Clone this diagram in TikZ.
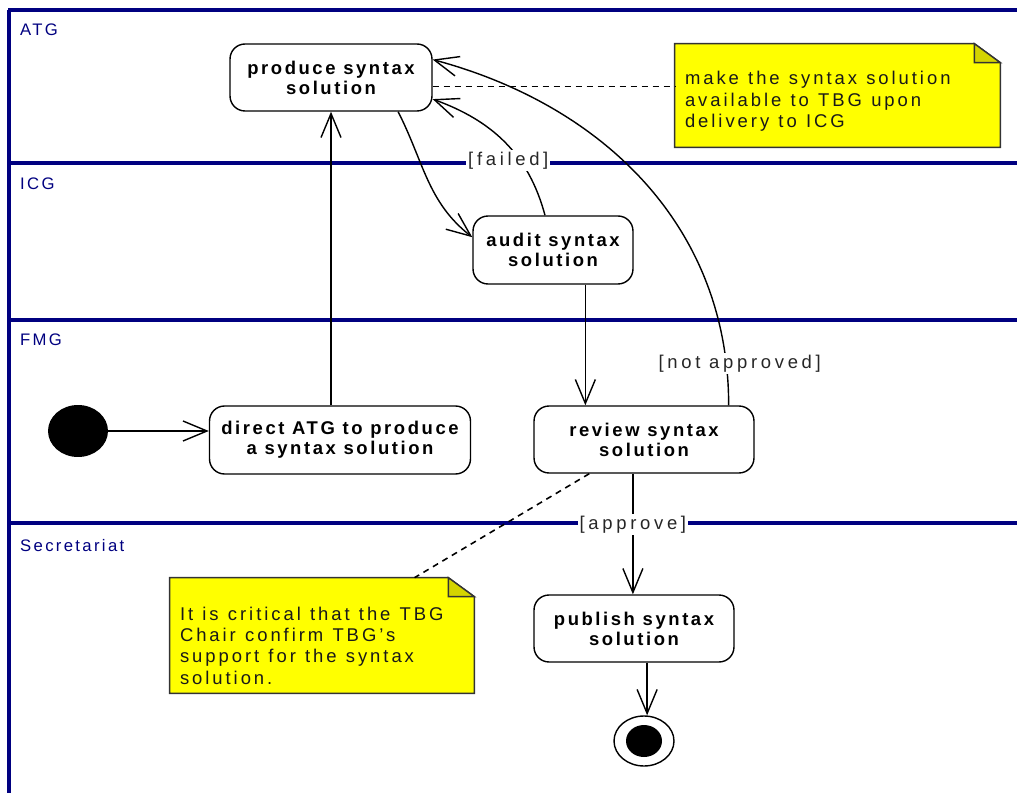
\documentclass[tikz,border=0pt]{standalone}
\usepackage{fontspec}
\setmainfont{Liberation Sans}[LetterSpace=16, BoldFeatures={LetterSpace=14}]
\newfontfamily\lanefont{Liberation Sans}[LetterSpace=14]
\newfontfamily\guardfont{Liberation Sans}[LetterSpace=20]
\newcommand\notespace{\spaceskip 0.5em\relax}
\usetikzlibrary{arrows.meta,shapes.geometric}
\definecolor{lanenavy}{RGB}{0,0,128}
\definecolor{noteyellow}{RGB}{255,255,0}
\definecolor{foldyellow}{RGB}{212,212,0}
\begin{document}
\begin{tikzpicture}[x=0.02cm, y=-0.02cm,
  every node/.style={font=\fontsize{10.5}{12}\selectfont},
  activity/.style={draw, rounded corners=0.3cm, line width=0.8pt, align=center, inner xsep=2pt,
    font=\fontsize{10.5}{11.4}\selectfont\bfseries, minimum height=1.34cm},
  lane/.style={draw=lanenavy, line width=2.3pt},
  lanelabel/.style={anchor=west, text=lanenavy, font=\fontsize{9.5}{11}\selectfont\lanefont},
  flow/.style={-{Straight Barb[length=0.48cm,width=0.4cm]}, line width=0.8pt},
  guard/.style={fill=white, inner sep=1pt, text=black!85, font=\fontsize{10.5}{12}\selectfont\guardfont},
  notebox/.style={fill=noteyellow, align=left, inner xsep=0.2cm, text=black!90},
  anchorline/.style={line width=0.9pt, dash pattern=on 0.12cm off 0.1cm}]
\useasboundingbox (0,0) rectangle (1017,793);
% Swimlanes
\draw[lane] (8,10) -- (1017,10);
\draw[lane] (9,10) -- (9,793);
\foreach \y in {163,320,523}
  \draw[lane] (9,\y) -- (1017,\y);
\node[lanelabel] (atg) at (14,30) {ATG};
\node[lanelabel] (icg) at (14,184) {ICG};
\node[lanelabel] (fmg) at (14,340) {FMG};
\node[lanelabel] (sec) at (14,546) {Secretariat};
% Activities
\node[activity, minimum width=4.04cm] (produce) at (331,77.5) {produce syntax\\solution};
\node[activity, minimum width=3.2cm, minimum height=1.36cm] (audit) at (553,250) {audit syntax\\solution};
\node[activity, minimum width=5.22cm, minimum height=1.36cm] (direct) at (340,440) {direct ATG to produce\\a syntax solution};
\node[activity, minimum width=4.4cm] (review) at (644,439.5) {review syntax\\solution};
\node[activity, minimum width=4.0cm] (publish) at (634,628.5) {publish syntax\\solution};
% Start and end
\node[ellipse, fill=black, minimum width=1.2cm, minimum height=1.04cm, inner sep=0pt] (init) at (78,431) {};
\node[ellipse, draw, line width=0.8pt, minimum width=1.2cm, minimum height=1.0cm, inner sep=0pt] (final) at (644,741) {};
\fill (final) ellipse (0.36cm and 0.32cm);
% Notes
\node[notebox, text width=6.1cm, minimum height=2.06cm] (note1) at (837.5,95.5)
  {\notespace\rule{0pt}{0.5cm}make the syntax solution\\available to TBG upon\\delivery to ICG};
\node[notebox, text width=5.68cm, minimum height=2.3cm] (note2) at (322,635.5)
  {\notespace\rule{0pt}{0.68cm}It is critical that the TBG\\Chair confirm TBG's\\support for the syntax\\solution.};
\foreach \n in {note1,note2} {
  \fill[white] ([xshift=-0.52cm]\n.north east) -- (\n.north east) -- ([yshift=-0.38cm]\n.north east) -- cycle;
  \draw[black!80, line width=0.8pt] (\n.north west) -- ([xshift=-0.52cm]\n.north east)
    -- ([yshift=-0.38cm]\n.north east) -- (\n.south east) -- (\n.south west) -- cycle;
  \filldraw[fill=foldyellow, draw=black!80, line width=0.8pt] ([xshift=-0.52cm]\n.north east)
    -- ([xshift=-0.52cm,yshift=-0.38cm]\n.north east) -- ([yshift=-0.38cm]\n.north east) -- cycle;
}
% Flows
\draw[flow] (init) -- (init -| direct.west);
\draw[flow] (produce.south |- direct.north) -- (produce.south);
\draw[flow] (produce.-27) to[out=-63, in=142] (audit.171);
\draw[flow] (audit.103) to[out=105, in=-20] node[guard, pos=0.35, xshift=-0.24cm] {[failed]} (produce.-12);
\draw[flow] (audit.-47.6) -- (audit.-47.6 |- review.north);
\draw[flow] (review.22) to[out=90, in=-15] node[guard, pos=0.09, xshift=0.28cm, yshift=-0.1cm] {[not approved]} (produce.10);
\draw[flow] (review.-108) -- node[guard, pos=0.42] {[approve]} (review.-108 |- publish.north);
\draw[flow] (publish.-69) -- (publish.-69 |- final.north);
% Note anchors
\draw[anchorline] (produce.-5) -- (produce.-5 -| note1.west);
\draw[anchorline] (review.-148) -- (note2.32.6);
\end{tikzpicture}
\end{document}
